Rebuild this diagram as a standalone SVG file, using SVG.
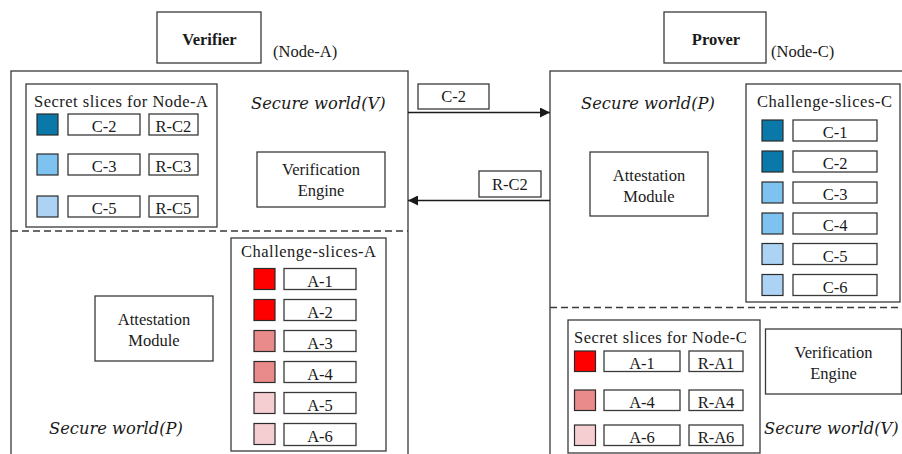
<svg xmlns="http://www.w3.org/2000/svg" width="902" height="454" viewBox="0 0 902 454">
<defs>
<style>
.box{fill:#fff;stroke:#3a3a3a;stroke-width:1.3}
.sq{stroke:#2a2a2a;stroke-width:1.2}
.t{font-family:"Liberation Serif","Times New Roman",serif;font-size:16.5px;fill:#1a1a1a}
.c{text-anchor:middle}
.b{font-weight:bold;font-size:16.5px}
.it{font-family:"DejaVu Serif",serif;font-style:italic;font-size:16.3px;fill:#1a1a1a}
.dash{stroke:#3a3a3a;stroke-width:1.3;stroke-dasharray:7,4;fill:none}
.ln{stroke:#1a1a1a;stroke-width:1.3;fill:none}
.db{fill:#0a78a8}.mb{fill:#7ec2ef}.lb{fill:#acd3f4}
.r1{fill:#ff0000}.r2{fill:#e98a8b}.r3{fill:#f5ced2}
</style>
<marker id="ah" markerWidth="10" markerHeight="10" refX="10" refY="5" orient="auto" markerUnits="userSpaceOnUse">
<path d="M0,0 L10,5 L0,10 z" fill="#1a1a1a"/>
</marker>
</defs>

<g id="verifier-title">
<rect class="box" x="157" y="12" width="104" height="51"/>
<text class="t b c" x="209.5" y="45">Verifier</text>
<text class="t" x="273" y="57" font-size="15.5">(Node-A)</text>
</g>
<g id="prover-title">
<rect class="box" x="664" y="12" width="102" height="51"/>
<text class="t b c" x="716" y="45">Prover</text>
<text class="t" x="771" y="57" font-size="15.5">(Node-C)</text>
</g>

<g id="node-a">
<rect class="box" x="11" y="71" width="397" height="400"/>
<line class="dash" x1="11" y1="231" x2="408" y2="231"/>
<text class="it" x="251" y="108.5">Secure world(V)</text>
<text class="it" x="49" y="434">Secure world(P)</text>
</g>

<g id="secret-slices-a">
<rect class="box" x="26" y="84" width="191" height="143"/>
<text class="t" x="34" y="107" textLength="174" lengthAdjust="spacing">Secret slices for Node-A</text>
<rect class="sq db" x="37" y="114" width="21" height="21"/>
<rect class="box" x="68" y="114" width="72" height="21"/><text class="t c" x="104" y="132">C-2</text>
<rect class="box" x="149" y="114" width="49" height="21"/><text class="t c" x="173.5" y="132">R-C2</text>
<rect class="sq mb" x="37" y="154" width="21" height="21"/>
<rect class="box" x="68" y="154" width="72" height="21"/><text class="t c" x="104" y="172">C-3</text>
<rect class="box" x="149" y="154" width="49" height="21"/><text class="t c" x="173.5" y="172">R-C3</text>
<rect class="sq lb" x="37" y="196" width="21" height="21"/>
<rect class="box" x="68" y="196" width="72" height="21"/><text class="t c" x="104" y="214">C-5</text>
<rect class="box" x="149" y="196" width="49" height="21"/><text class="t c" x="173.5" y="214">R-C5</text>
</g>

<g id="verification-engine-a">
<rect class="box" x="257" y="152" width="128" height="55"/>
<text class="t c" x="321" y="175">Verification</text>
<text class="t c" x="321" y="196">Engine</text>
</g>

<g id="attestation-module-a">
<rect class="box" x="95" y="296" width="118" height="65"/>
<text class="t c" x="154" y="325">Attestation</text>
<text class="t c" x="154" y="346">Module</text>
</g>

<g id="challenge-slices-a">
<rect class="box" x="231" y="238" width="155" height="213"/>
<text class="t" x="241" y="257" textLength="135" lengthAdjust="spacing">Challenge-slices-A</text>
<rect class="sq r1" x="254" y="268.5" width="21" height="21"/>
<rect class="box" x="284" y="268.5" width="72" height="21"/><text class="t c" x="320" y="286.5">A-1</text>
<rect class="sq r1" x="254" y="299.5" width="21" height="21"/>
<rect class="box" x="284" y="299.5" width="72" height="21"/><text class="t c" x="320" y="317.5">A-2</text>
<rect class="sq r2" x="254" y="330.5" width="21" height="21"/>
<rect class="box" x="284" y="330.5" width="72" height="21"/><text class="t c" x="320" y="348.5">A-3</text>
<rect class="sq r2" x="254" y="361.5" width="21" height="21"/>
<rect class="box" x="284" y="361.5" width="72" height="21"/><text class="t c" x="320" y="379.5">A-4</text>
<rect class="sq r3" x="254" y="392.5" width="21" height="21"/>
<rect class="box" x="284" y="392.5" width="72" height="21"/><text class="t c" x="320" y="410.5">A-5</text>
<rect class="sq r3" x="254" y="423.5" width="21" height="21"/>
<rect class="box" x="284" y="423.5" width="72" height="22"/><text class="t c" x="320" y="441.5">A-6</text>
</g>

<g id="node-c">
<rect class="box" x="550" y="71" width="400" height="400"/>
<line class="dash" x1="550" y1="307.5" x2="902" y2="307.5"/>
<text class="it" x="581" y="109">Secure world(P)</text>
<text class="it" x="764" y="434">Secure world(V)</text>
</g>

<g id="attestation-module-c">
<rect class="box" x="590" y="152" width="118" height="64"/>
<text class="t c" x="649" y="181">Attestation</text>
<text class="t c" x="649" y="202">Module</text>
</g>

<g id="challenge-slices-c">
<rect class="box" x="746" y="84" width="154" height="218"/>
<text class="t" x="757" y="107" textLength="135" lengthAdjust="spacing">Challenge-slices-C</text>
<rect class="sq db" x="762" y="120" width="21" height="21"/>
<rect class="box" x="793" y="120" width="84" height="21"/><text class="t c" x="835" y="138">C-1</text>
<rect class="sq db" x="762" y="151" width="21" height="21"/>
<rect class="box" x="793" y="151" width="84" height="21"/><text class="t c" x="835" y="169">C-2</text>
<rect class="sq mb" x="762" y="182" width="21" height="21"/>
<rect class="box" x="793" y="182" width="84" height="21"/><text class="t c" x="835" y="200">C-3</text>
<rect class="sq mb" x="762" y="213" width="21" height="21"/>
<rect class="box" x="793" y="213" width="84" height="21"/><text class="t c" x="835" y="231">C-4</text>
<rect class="sq lb" x="762" y="243.5" width="21" height="21"/>
<rect class="box" x="793" y="243.5" width="84" height="21"/><text class="t c" x="835" y="261.5">C-5</text>
<rect class="sq lb" x="762" y="274.5" width="21" height="21"/>
<rect class="box" x="793" y="274.5" width="84" height="21"/><text class="t c" x="835" y="292.5">C-6</text>
</g>

<g id="secret-slices-c">
<rect class="box" x="568" y="320" width="192" height="133"/>
<text class="t" x="574" y="343" textLength="172.7" lengthAdjust="spacing">Secret slices for Node-C</text>
<rect class="sq r1" x="574.5" y="351" width="21" height="20.5"/>
<rect class="box" x="604" y="351" width="76" height="20.5"/><text class="t c" x="642" y="368.5">A-1</text>
<rect class="box" x="689" y="351" width="54" height="20.5"/><text class="t c" x="716" y="368.5">R-A1</text>
<rect class="sq r2" x="574.5" y="390" width="21" height="20.5"/>
<rect class="box" x="604" y="390" width="76" height="20.5"/><text class="t c" x="642" y="407.5">A-4</text>
<rect class="box" x="689" y="390" width="54" height="20.5"/><text class="t c" x="716" y="407.5">R-A4</text>
<rect class="sq r3" x="574.5" y="425" width="21" height="20.5"/>
<rect class="box" x="604" y="425" width="76" height="20.5"/><text class="t c" x="642" y="442.5">A-6</text>
<rect class="box" x="689" y="425" width="54" height="20.5"/><text class="t c" x="716" y="442.5">R-A6</text>
</g>

<g id="verification-engine-c">
<rect class="box" x="765.5" y="329" width="136" height="65"/>
<text class="t c" x="833.5" y="357.5">Verification</text>
<text class="t c" x="833.5" y="379">Engine</text>
</g>

<g id="connectors">
<line class="ln" x1="408" y1="112.5" x2="550" y2="112.5" marker-end="url(#ah)"/>
<rect class="box" x="418" y="84" width="71" height="25"/>
<text class="t c" x="453.5" y="102">C-2</text>
<line class="ln" x1="550" y1="200.5" x2="408" y2="200.5" marker-end="url(#ah)"/>
<rect class="box" x="479" y="171" width="62" height="26"/>
<text class="t c" x="510" y="189.5">R-C2</text>
</g>
</svg>
